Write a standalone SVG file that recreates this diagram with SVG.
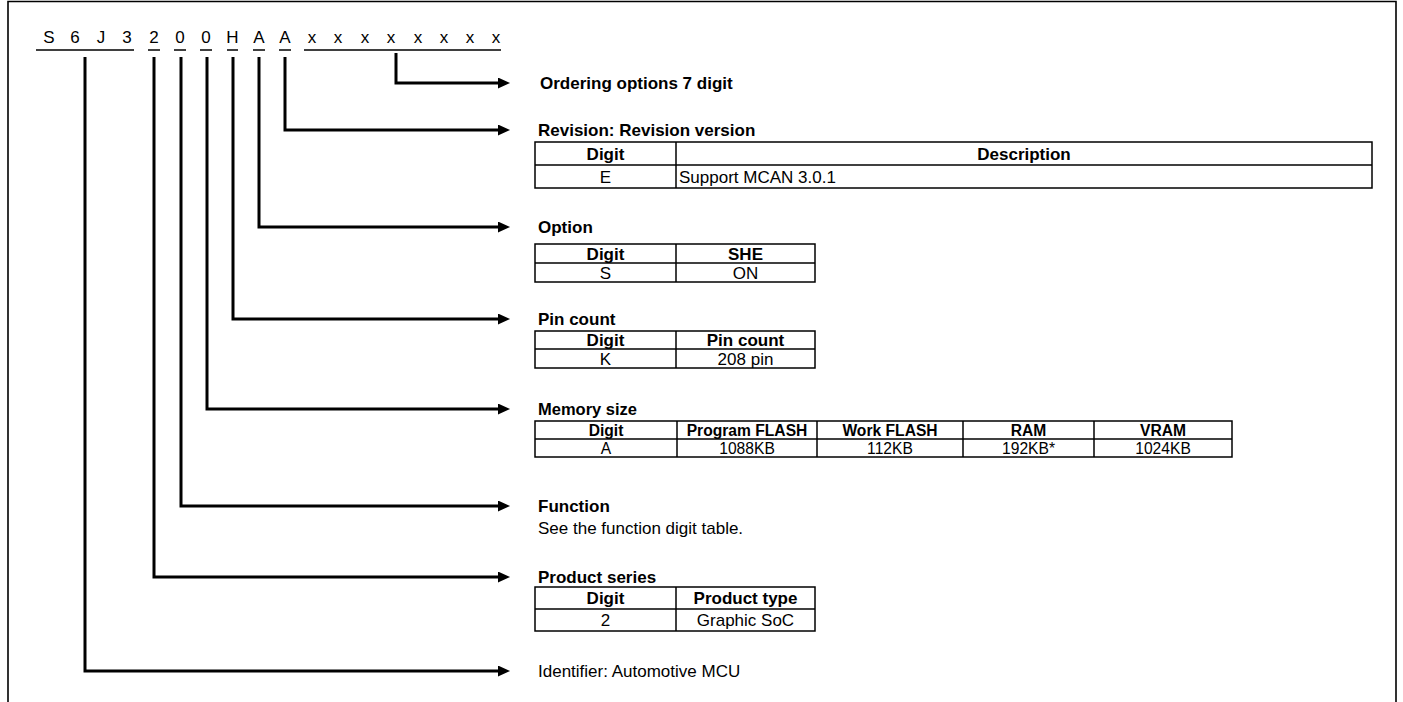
<svg xmlns="http://www.w3.org/2000/svg" width="1403" height="702" viewBox="0 0 1403 702">
<defs>
<marker id="ah" markerUnits="userSpaceOnUse" markerWidth="13" markerHeight="12" refX="0" refY="5.5" orient="auto">
<path d="M0,0 L12,5.5 L0,11 z" fill="#000"/>
</marker>
<style>
text{font-family:"Liberation Sans",Arial,sans-serif;font-size:17px;fill:#000}
.b{font-weight:bold}
.c{text-anchor:middle}
.ul{stroke:#000;stroke-width:1.5;fill:none}
.conn path{stroke:#000;stroke-width:3;fill:none;stroke-linejoin:miter;marker-end:url(#ah)}
.tb{fill:none;stroke:#000;stroke-width:1.5}
.tl{stroke:#000;stroke-width:1.5}
</style>
</defs>
<rect width="1403" height="702" fill="#fff"/>
<path d="M8,702 V1.5 H1396 V702" fill="none" stroke="#000" stroke-width="1.6"/>

<g id="part-number">
<text x="49" y="43" class="c">S</text>
<text x="75" y="43" class="c">6</text>
<text x="101" y="43" class="c">J</text>
<text x="127" y="43" class="c">3</text>
<text x="154" y="43" class="c">2</text>
<text x="180" y="43" class="c">0</text>
<text x="206" y="43" class="c">0</text>
<text x="232.5" y="43" class="c">H</text>
<text x="259" y="43" class="c">A</text>
<text x="285" y="43" class="c">A</text>
<text x="312" y="43" class="c">x</text>
<text x="338" y="43" class="c">x</text>
<text x="365" y="43" class="c">x</text>
<text x="391" y="43" class="c">x</text>
<text x="418" y="43" class="c">x</text>
<text x="444" y="43" class="c">x</text>
<text x="470" y="43" class="c">x</text>
<text x="496" y="43" class="c">x</text>
<path class="ul" d="M36,50 H134 M148,50 H160 M174,50 H186 M200,50 H212 M227,50 H238 M253,50 H265 M279,50 H291 M304,50 H501"/>
</g>

<g id="connectors" class="conn">
<path d="M396,53 V83 H498"/>
<path d="M285,57 V130 H498"/>
<path d="M259,57 V227 H498"/>
<path d="M233,57 V319 H498"/>
<path d="M207,57 V409 H498"/>
<path d="M181,57 V506 H498"/>
<path d="M154,57 V577 H498"/>
<path d="M85,57 V671 H498"/>
</g>

<g id="ordering">
<text x="540" y="89" class="b">Ordering options 7 digit</text>
</g>

<g id="revision">
<text x="538" y="136" class="b">Revision: Revision version</text>
<rect class="tb" x="535" y="142" width="837" height="46"/>
<line class="tl" x1="535" y1="165" x2="1372" y2="165"/>
<line class="tl" x1="676" y1="142" x2="676" y2="188"/>
<text x="605.5" y="159.5" class="b c">Digit</text>
<text x="1024" y="159.5" class="b c">Description</text>
<text x="605.5" y="182.5" class="c">E</text>
<text x="679" y="182.5">Support MCAN 3.0.1</text>
</g>

<g id="option">
<text x="538" y="233" class="b">Option</text>
<rect class="tb" x="535" y="244" width="280" height="38"/>
<line class="tl" x1="535" y1="263" x2="815" y2="263"/>
<line class="tl" x1="676" y1="244" x2="676" y2="282"/>
<text x="605.5" y="259.5" class="b c">Digit</text>
<text x="745.5" y="259.5" class="b c">SHE</text>
<text x="605.5" y="278.5" class="c">S</text>
<text x="745.5" y="278.5" class="c">ON</text>
</g>

<g id="pin-count">
<text x="538" y="325" class="b">Pin count</text>
<rect class="tb" x="535" y="331" width="280" height="37"/>
<line class="tl" x1="535" y1="349" x2="815" y2="349"/>
<line class="tl" x1="676" y1="331" x2="676" y2="368"/>
<text x="605.5" y="346" class="b c">Digit</text>
<text x="745.5" y="346" class="b c">Pin count</text>
<text x="605.5" y="364.5" class="c">K</text>
<text x="745.5" y="364.5" class="c">208 pin</text>
</g>

<g id="memory-size">
<text x="538" y="415" class="b" textLength="99" lengthAdjust="spacingAndGlyphs">Memory size</text>
<rect class="tb" x="535" y="421" width="697" height="36"/>
<line class="tl" x1="535" y1="439" x2="1232" y2="439"/>
<line class="tl" x1="677" y1="421" x2="677" y2="457"/>
<line class="tl" x1="817" y1="421" x2="817" y2="457"/>
<line class="tl" x1="963" y1="421" x2="963" y2="457"/>
<line class="tl" x1="1094" y1="421" x2="1094" y2="457"/>
<g transform="translate(606,0) scale(0.92,1)"><text x="0" y="436" class="b c">Digit</text><text x="0" y="454" class="c">A</text></g>
<g transform="translate(747,0) scale(0.92,1)"><text x="0" y="436" class="b c">Program FLASH</text><text x="0" y="454" class="c">1088KB</text></g>
<g transform="translate(890,0) scale(0.92,1)"><text x="0" y="436" class="b c">Work FLASH</text><text x="0" y="454" class="c">112KB</text></g>
<g transform="translate(1028.5,0) scale(0.92,1)"><text x="0" y="436" class="b c">RAM</text><text x="0" y="454" class="c">192KB*</text></g>
<g transform="translate(1163,0) scale(0.92,1)"><text x="0" y="436" class="b c">VRAM</text><text x="0" y="454" class="c">1024KB</text></g>
</g>

<g id="function">
<text x="538" y="512" class="b">Function</text>
<text x="538" y="534">See the function digit table.</text>
</g>

<g id="product-series">
<text x="538" y="583" class="b">Product series</text>
<rect class="tb" x="535" y="587" width="280" height="44"/>
<line class="tl" x1="535" y1="609" x2="815" y2="609"/>
<line class="tl" x1="676" y1="587" x2="676" y2="631"/>
<text x="605.5" y="604" class="b c">Digit</text>
<text x="745.5" y="604" class="b c">Product type</text>
<text x="605.5" y="626" class="c">2</text>
<text x="745.5" y="626" class="c">Graphic SoC</text>
</g>

<g id="identifier">
<text x="538" y="677">Identifier: Automotive MCU</text>
</g>
</svg>
